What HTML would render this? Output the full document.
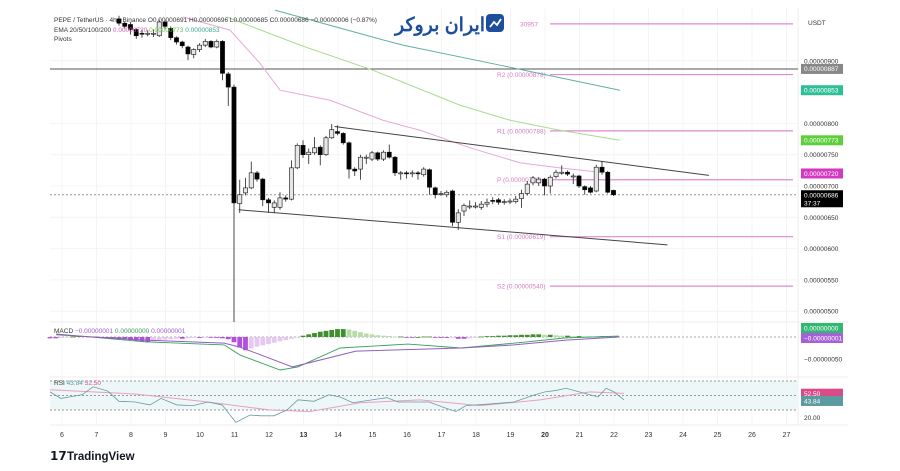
<!DOCTYPE html>
<html><head><meta charset="utf-8"><style>
html,body{margin:0;padding:0;background:#fff;}
svg{display:block;font-family:"Liberation Sans","Noto Sans CJK SC",sans-serif;}
</style></head><body>
<svg id="chart" width="900" height="471" viewBox="0 0 900 471" xmlns="http://www.w3.org/2000/svg">
<defs><clipPath id="pc"><rect x="50" y="8" width="748" height="314"/></clipPath></defs>
<g id="grid"></g>
<rect x="50" y="381" width="748" height="29" fill="#eef7f7"/>
<g id="price" clip-path="url(#pc)"></g>
<g id="macd"></g>
<g id="rsi"></g>
<g id="axis"></g>
<g font-size="6.5" fill="#333">
<text x="54" y="22">PEPE / TetherUS · 4h · Binance  O0.00000691 H0.00000696 L0.00000685 C0.00000686 −0.00000006 (−0.87%)</text>
<text x="54" y="32">EMA 20/50/100/200 <tspan fill="#d05ab0">0.00000720</tspan> <tspan fill="#6cc04a">0.00000773</tspan> <tspan fill="#3aa88a">0.00000853</tspan></text>
<text x="54" y="41">Pivots</text>
<text x="54" y="333">MACD <tspan fill="#a05ad0">−0.00000001</tspan> <tspan fill="#3a9a5a">0.00000000</tspan> <tspan fill="#a05ad0">0.00000001</tspan></text>
<text x="54" y="385">RSI <tspan fill="#5a9aa0">43.84</tspan> <tspan fill="#d0508a">52.50</tspan></text>
</g>
<g>
<text x="440" y="31" text-anchor="middle" font-size="19" font-weight="bold" fill="#1d4e9e" font-family="'Liberation Sans','Noto Sans CJK SC',sans-serif" direction="rtl">ایران بروکر</text>
<rect x="486" y="14" width="18" height="18" rx="4" fill="#1d4e9e"/>
<path d="M490 27 L494 22 L497 25 L501 19" stroke="#fff" stroke-width="1.8" fill="none"/>
</g>
<g id="xaxis"></g>
<g>
<text x="50" y="460" font-size="12" font-weight="bold" fill="#131722">𝟭𝟳</text>
<text x="67" y="460" font-size="11.5" font-weight="bold" fill="#131722">TradingView</text>
</g>
</svg>
<script>
const NS="http://www.w3.org/2000/svg";
// ---- data (price in 1e-8 USDT) ----
const candleStartDay=7.652;
const opens=[967,960,958,950,944,944,943,940,962,952,937,930,922,910,918,925,931,922,931,879,858,672,689,697,721,711,678,666,666,681,679,729,765,750,753,762,750,777,787,784,769,727,727,746,743,753,743,754,746,721,721,720,721,718,726,697,688,686,692,642,660,668,668,666,671,677,678,675,675,675,680,688,705,705,711,700,715,722,722,716,716,699,697,692,730,722,693];
const closes=[960,955,950,940,943,944,944,962,955,937,930,924,911,918,925,931,922,931,880,858,673,686,697,721,711,678,673,673,681,679,729,765,750,754,761,750,777,790,784,769,727,724,746,746,753,743,754,746,721,721,720,721,720,727,698,686,688,690,642,657,669,668,668,671,674,676,674,675,676,679,688,703,713,711,700,714,722,722,719,716,700,694,690,730,722,690,686];
const highs=[972,963,962,952,950,949,950,966,965,955,939,932,924,920,928,935,933,934,933,882,862,710,713,739,724,713,681,677,690,685,741,768,773,760,778,765,780,799,797,786,771,730,750,750,756,755,757,766,748,724,724,725,724,730,728,699,692,693,694,663,672,677,674,676,680,682,681,679,680,684,694,708,716,714,713,717,726,733,725,720,718,701,700,734,740,724,694];
const lows=[956,951,942,935,937,939,938,938,951,933,926,920,901,904,914,922,920,920,869,828,481,657,685,695,707,668,657,657,662,675,677,727,745,735,750,733,748,775,781,766,712,716,710,735,740,740,740,744,716,710,712,714,710,715,686,680,684,682,636,630,652,663,664,662,666,671,670,670,671,672,665,685,701,700,685,688,712,718,716,703,697,686,688,690,718,688,684];
const ema20Days=[9.51,10.87,11.74,12.32,13.77,15.30,16.38,17.83,19.28,20.43,21.59];
const ema20Vals=[970,949,896,853,837,805,789,761,737,729,722];
const ema50Days=[10.78,12.90,15.01,17.54,18.99,20.43,22.17];
const ema50Vals=[970,925,885,829,805,789,773];
const ema100Days=[12.17,15.13,15.88,18.70,22.17];
const ema100Vals=[981,936,925,893,853];
const pivotNames=["30957","R2 (0.00000878)","R1 (0.00000788)","P (0.00000710)","S1 (0.00000619)","S2 (0.00000540)"];
const pivotVals=[959,878,788,710,619,540];
const channelUpper=[[13.9,795],[24.75,717]];
const channelLower=[[11.12,662],[23.55,606]];
const histStartDay=5.652;
const histVals=[-3,-3,-2,-1,1,2,2,1,1,-1,-2,-3,-4,-5,-7,-9,-11,-12,-10,-8,-6,-5,-4,-4,-3,-2,-2,-1,-1,-2,-3,-5,-12,-24,-30,-26,-22,-19,-16,-13,-10,-7,-4,-1,3,6,9,12,14,16,18,18,17,14,11,8,6,4,3,2,1,1,-1,-1,0,1,1,-1,-2,-2,-1,-4,-4,-3,-2,1,2,2,3,3,4,4,5,5,6,6,5,5,4,3,3,2,2,1,1,1,2,1,0];
const macdDays=[5.83,8.41,10.70,11.16,12.32,12.84,14.06,16.03,17.57,19.10,20.61,22.14];
const macdVals=[7,-11,-18,-41,-75,-68,-25,-16,-25,-14,-2,2];
const signalDays=[5.83,8.41,10.70,11.16,12.68,14.52,17.57,19.10,20.61,22.14];
const signalVals=[5,-7,-14,-23,-68,-32,-25,-18,-7,0];
const rsiDays=[5.65,5.97,6.58,6.90,7.33,7.65,8.12,8.55,8.87,9.33,9.80,10.23,10.64,11.04,11.45,11.77,12.14,12.52,12.84,13.30,13.74,14.06,14.43,15.13,15.42,15.74,16.64,17.10,17.42,17.71,18.32,19.10,19.71,20.0,20.32,20.61,21.22,21.54,21.77,22.0,22.29];
const rsiVals=[55,46,51,62,56,42,41,37,46,37,36,41,37,13,23,22,22,30,44,42,51,48,40,45,47,41,41,33,28,36,38,41,51,55,57,60,52,48,60,55,44];
const rsiMaDays=[5.65,8.12,10.23,12.03,13.19,14.64,16.38,18.12,19.86,21.3,22.29];
const rsiMaVals=[58,52,41,30,28,40,44,36,44,55,53];
const dayLabels=["6","7","8","9","10","11","12","13","14","15","16","17","18","19","20","21","22","23","24","25","26","27"];
const priceTicks=[900,800,750,700,650,600,550,500];
const priceTickLabels=["0.00000900","0.00000800","0.00000750","0.00000700","0.00000650","0.00000600","0.00000550","0.00000500"];
const badgeVals=[887,853,773,720];
const badgeLabels=["0.00000887","0.00000853","0.00000773","0.00000720"];
const badgeColors=["#888","#2fbf97","#5ccf3a","#d43ac0"];
const lastPrice=686;
// ---- axes ----
const xD=d=>62+(d-6)*34.5;
const yP=v=>186-(v-700)*0.626;
const yM=m=>337-m*0.44;
const yR=r=>395.5-(r-50)*0.725;
function mk(tag,attrs,parent){const e=document.createElementNS(NS,tag);for(const k in attrs)e.setAttribute(k,attrs[k]);parent.appendChild(e);return e;}
const G=id=>document.getElementById(id);
const grid=G('grid');
dayLabels.forEach((l,i)=>{const x=xD(6+i);
 const g=mk('line',{x1:x,x2:x,y1:8,y2:425,stroke:'#f4f4f4','stroke-width':1},grid);
 
 });
priceTicks.forEach(v=>{const g=mk('line',{x1:50,x2:798,y1:yP(v),y2:yP(v),stroke:'#f4f4f4'},grid);
 
 });
[322,377,425].forEach(y=>{const g=mk('line',{x1:50,x2:848,y1:y,y2:y,stroke:'#eee'},grid);
 
 });
{const g=mk('line',{x1:798,x2:798,y1:8,y2:425,stroke:'#eee'},grid);
 
 }
const P=G('price');
{const l=mk('line',{x1:50,x2:798,y1:yP(887),y2:yP(887),stroke:'#555','stroke-width':1},P);
 
 }
pivotVals.forEach((v,i)=>{const y=yP(v);
 const l=mk('line',{x1:550,x2:793,y1:y,y2:y,stroke:'#e08ad0','stroke-width':1.2},P);
 
 
 const t=mk('text',{x:i==0?520:497,y:y+2.5,'font-size':6.5,fill:'#d67ac6'},P);t.textContent=pivotNames[i];
 
 });
function poly(days,vals,yf,color,w,name,parent){const pts=days.map((d,i)=>xD(d)+','+yf(vals[i])).join(' ');
 const p=mk('polyline',{points:pts,fill:'none',stroke:color,'stroke-width':w},parent);
 
 return p;}
poly(ema100Days,ema100Vals,yP,'#5fb0a0',1,'ema100-line',P);
poly(ema50Days,ema50Vals,yP,'#a8dc90',1,'ema50-line',P);
poly(ema20Days,ema20Vals,yP,'#e8a8d6',1,'ema20-line',P);
[channelUpper,channelLower].forEach((c,k)=>{const l=mk('line',{x1:xD(c[0][0]),y1:yP(c[0][1]),x2:xD(c[1][0]),y2:yP(c[1][1]),stroke:'#444','stroke-width':1},P);
 
 });
{const l=mk('line',{x1:50,x2:798,y1:yP(lastPrice),y2:yP(lastPrice),stroke:'#999','stroke-dasharray':'2,2'},P);
 
 }
opens.forEach((o,i)=>{const c=closes[i],x=xD(candleStartDay+i/6);
 const w=mk('line',{x1:x,x2:x,y1:yP(highs[i]),y2:yP(lows[i]),stroke:'#222','stroke-width':0.8},P);
 
 
 const top=yP(Math.max(o,c)),h=Math.max(1,yP(Math.min(o,c))-top);
 const up=c>=o;
 const r=mk('rect',{x:x-2.1,y:top,width:4.2,height:h,fill:up?'#e6e6e6':'#000',stroke:'#111','stroke-width':0.6},P);
 
 });
const M=G('macd');
{const l=mk('line',{x1:50,x2:798,y1:yM(0),y2:yM(0),stroke:'#aaa','stroke-dasharray':'2,2'},M);
 
 }
histVals.forEach((v,i)=>{const x=xD(histStartDay+i/6),prev=i?histVals[i-1]:0;
 let col=v>=0?(v>=prev?'#3f8f2f':'#b8dca8'):(v<=prev?'#b44ee0':'#e6c8f2');
 const y0=yM(0),y1=yM(v);
 const r=mk('rect',{x:x-2.4,y:Math.min(y0,y1),width:4.8,height:Math.max(0.8,Math.abs(y1-y0)),fill:col},M);
 
 });
poly(macdDays,macdVals,yM,'#3aa060',0.9,'macd-line',M);
poly(signalDays,signalVals,yM,'#9060c0',1,'signal-line',M);
const R=G('rsi');
[70,50,30].forEach(v=>{const l=mk('line',{x1:50,x2:798,y1:yR(v),y2:yR(v),stroke:'#999','stroke-dasharray':'2,2'},R);
 
 });
poly(rsiMaDays,rsiMaVals,yR,'#e8a0c0',1,'rsi-ma-line',R);
poly(rsiDays,rsiVals,yR,'#6a9aa8',0.8,'rsi-line',R);
const A=G('axis');
{const t=mk('text',{x:808,y:25,'font-size':6.5,fill:'#333'},A);t.textContent='USDT';
 
 }
priceTicks.forEach((v,i)=>{const t=mk('text',{x:804,y:yP(v)+2.5,'font-size':6.5,fill:'#333'},A);t.textContent=priceTickLabels[i];
 
 });
function badge(y,h,col,lines,name,parent,tc){const r=mk('rect',{x:801,y:y-5,width:42,height:h,fill:col},parent);
 
 
 lines.forEach((s,k)=>{const t=mk('text',{x:804,y:y+2.3+k*8,'font-size':6.5,fill:tc||'#fff'},parent);t.textContent=s;
 
 });}
badgeVals.forEach((v,i)=>badge(yP(v),10,badgeColors[i],[badgeLabels[i]],'price-badge',A));
badge(yP(lastPrice)+0.5,17,'#000',['0.00000686','37:37'],'last-price-badge',A);
badge(328,10,'#33b874',['0.00000000'],'macd-badge',A);
badge(338,10,'#a860d8',['−0.00000001'],'signal-badge',A);
{const t=mk('text',{x:804,y:yM(-50)+2.5,'font-size':6.5,fill:'#333'},A);t.textContent='−0.00000050';
 
 }
badge(yR(52.5),10,'#d84a88',['52.50'],'rsi-ma-badge',A);
badge(yR(43.84)+1,10,'#5a9aa0',['43.84'],'rsi-badge',A);
{const t=mk('text',{x:804,y:yR(20)+2.5,'font-size':6.5,fill:'#333'},A);t.textContent='20.00';
 
 }
const X=G('xaxis');
dayLabels.forEach((l,i)=>{const t=mk('text',{x:xD(6+i),y:437,'font-size':7,'text-anchor':'middle',fill:'#333','font-weight':(l=='13'||l=='20')?'bold':'normal'},X);t.textContent=l;
 
 });
</script>
</body></html>
